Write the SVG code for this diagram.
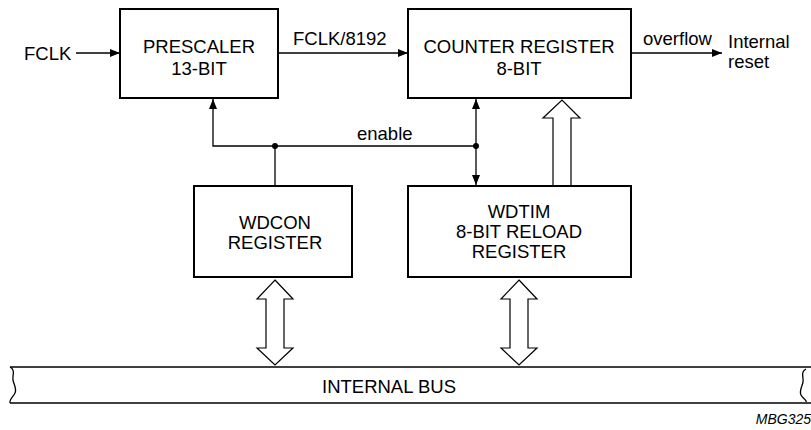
<svg xmlns="http://www.w3.org/2000/svg" width="811" height="430" viewBox="0 0 811 430">
<style>
.box{fill:#fff;stroke:#000;stroke-width:2}
.ln{fill:none;stroke:#000;stroke-width:1.3}
.hol{fill:#fff;stroke:#000;stroke-width:1.2;stroke-linejoin:miter}
text{font-family:"Liberation Sans",Arial,sans-serif;font-size:18.5px;fill:#000}
.c{text-anchor:middle}
</style>
<defs>
<marker id="ah" viewBox="0 0 10 8" refX="10" refY="4" markerWidth="10" markerHeight="8" markerUnits="userSpaceOnUse" orient="auto">
<path d="M0,0 L10,4 L0,8 Z" fill="#000"/>
</marker>
</defs>
<rect width="811" height="430" fill="#fff"/>
<g id="connectors">
<line class="ln" x1="76" y1="53" x2="120" y2="53" marker-end="url(#ah)"/>
<line class="ln" x1="278" y1="53" x2="408" y2="53" marker-end="url(#ah)"/>
<line class="ln" x1="631" y1="53" x2="722" y2="53" marker-end="url(#ah)"/>
<polyline class="ln" points="476,146 213,146 213,99" marker-end="url(#ah)"/>
<line class="ln" x1="275" y1="146" x2="275" y2="186"/>
<line class="ln" x1="476" y1="146" x2="476" y2="99" marker-end="url(#ah)"/>
<line class="ln" x1="476" y1="146" x2="476" y2="185" marker-end="url(#ah)"/>
<circle cx="275" cy="146" r="3" fill="#000"/>
<circle cx="476" cy="146" r="3" fill="#000"/>
<path class="hol" d="M553,186 L553,118 L543,118 L562,100 L580,118 L571,118 L571,186"/>
<path class="hol" d="M275,280 L293,299 L284,299 L284,348 L293,348 L275,365 L257,348 L266,348 L266,299 L257,299 Z"/>
<path class="hol" d="M519,280 L537,299 L528,299 L528,348 L537,348 L519,365 L501,348 L510,348 L510,299 L501,299 Z"/>
<text x="24" y="60">FCLK</text>
<text x="293" y="45">FCLK/8192</text>
<text x="643" y="45">overflow</text>
<text x="728" y="48">Internal</text>
<text x="728" y="68">reset</text>
<text x="357" y="140">enable</text>
</g>
<g id="prescaler">
<rect class="box" x="120" y="9" width="158" height="89"/>
<text class="c" x="199" y="53">PRESCALER</text>
<text class="c" x="199" y="75">13-BIT</text>
</g>
<g id="counter">
<rect class="box" x="408" y="9" width="223" height="89"/>
<text class="c" x="519" y="53">COUNTER REGISTER</text>
<text class="c" x="519" y="75">8-BIT</text>
</g>
<g id="wdcon">
<rect class="box" x="194" y="186" width="158" height="91"/>
<text class="c" x="275" y="229">WDCON</text>
<text class="c" x="275" y="249">REGISTER</text>
</g>
<g id="wdtim">
<rect class="box" x="408" y="186" width="223" height="91"/>
<text class="c" x="519" y="218">WDTIM</text>
<text class="c" x="519" y="238">8-BIT RELOAD</text>
<text class="c" x="519" y="258">REGISTER</text>
</g>
<g id="bus">
<path fill="#fff" stroke="none" d="M10,367 L811,367 L811,403 L10,403 Z"/>
<line class="ln" x1="10" y1="367" x2="811" y2="367"/>
<line class="ln" x1="10" y1="403" x2="811" y2="403"/>
<path class="ln" d="M10,367 C16,370 12,376 13,380 C14,385 17,389 15,393 C13,397 9,400 10,403"/>
<path class="ln" d="M806,369 C800,372 804,378 803,382 C802,387 799,391 801,395 C803,399 807,400 806,402"/>
<text class="c" x="389" y="393">INTERNAL BUS</text>
</g>
<text x="811" y="424" text-anchor="end" style="font-size:14px;font-style:italic">MBG325</text>
</svg>
